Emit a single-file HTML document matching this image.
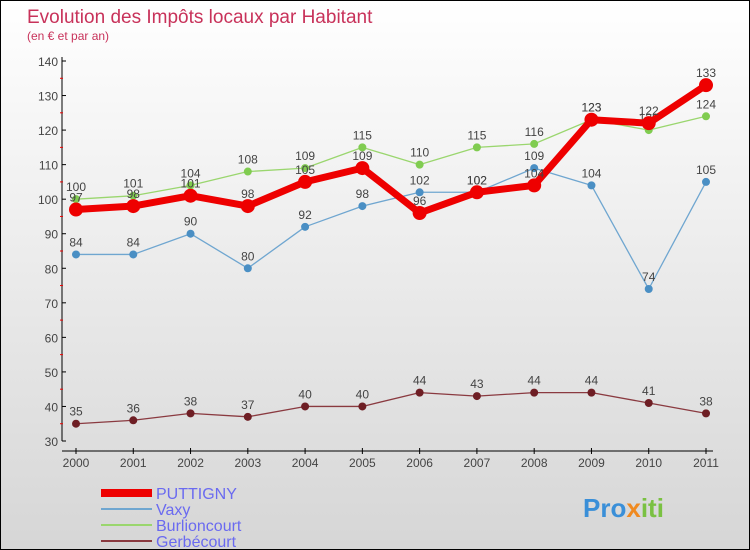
<!DOCTYPE html>
<html><head><meta charset="utf-8"><style>
body{margin:0}
#c{width:750px;height:550px;position:relative;box-sizing:border-box;border:1px solid #000;background:linear-gradient(#fff,#d6d6d6);font-family:"Liberation Sans",sans-serif;overflow:hidden}
</style></head><body>
<div id="c">
<svg id="s" width="748" height="548" style="position:absolute;left:0;top:0">
<text x="26" y="22" font-size="19" fill="#c8325a">Evolution des Impôts locaux par Habitant</text>
<text x="26" y="39" font-size="12" fill="#c8325a">(en € et par an)</text>
<g id="axes"></g><g id="series"></g><g id="legend"></g>
<text x="582" y="516" font-size="26" font-weight="bold" fill="#3a8fd8">Pro<tspan fill="#f08a20">x</tspan><tspan fill="#7ac142">iti</tspan></text>
</svg></div>
<script>
const years=[2000,2001,2002,2003,2004,2005,2006,2007,2008,2009,2010,2011];
const puttigny=[97,98,101,98,105,109,96,102,104,123,122,133];
const vaxy=[84,84,90,80,92,98,102,102,109,104,74,105];
const burlioncourt=[100,101,104,108,109,115,110,115,116,123,120,124];
const gerbecourt=[35,36,38,37,40,40,44,43,44,44,41,38];
const yTicks=[30,40,50,60,70,80,90,100,110,120,130,140];
const NS="http://www.w3.org/2000/svg";
function X(i){return 75+i*(630/11);}
function Y(v){return 440-(v-30)*(380/110);}
function mk(t,a,p){const e=document.createElementNS(NS,t);for(const k in a)e.setAttribute(k,a[k]);p.appendChild(e);return e;}
const ax=document.getElementById('axes');
let l=mk('line',{x1:61,y1:56,x2:61,y2:440,stroke:'#000','stroke-width':1},ax);

l=mk('line',{x1:61,y1:450,x2:712,y2:450,stroke:'#000','stroke-width':1},ax);

yTicks.forEach(v=>{
 mk('line',{x1:61,y1:Y(v),x2:65,y2:Y(v),stroke:'#000'},ax);
 if(v<140)mk('line',{x1:59,y1:Y(v+5),x2:62,y2:Y(v+5),stroke:'#e00'},ax);
 const t=mk('text',{x:57,y:Y(v)+5,'text-anchor':'end','font-size':12,fill:'#444'},ax);t.textContent=v;
 
});
years.forEach((y,i)=>{
 mk('line',{x1:X(i),y1:447,x2:X(i),y2:453,stroke:'#000'},ax);
 const t=mk('text',{x:X(i),y:466,'text-anchor':'middle','font-size':12,fill:'#444'},ax);t.textContent=y;
 
});
const sg=document.getElementById('series');
const defs=[[gerbecourt,'#6e1e24',1.3,4,'gerbecourt'],[vaxy,'#4a8fc4',1.3,4,'vaxy'],[burlioncourt,'#80cc50',1.3,4,'burlioncourt'],[puttigny,'#ee0000',7,7,'puttigny']];
const lineCol={gerbecourt:'#8a3a40',vaxy:'#6fa6d0',burlioncourt:'#9ad66e',puttigny:'#ee0000'};
defs.forEach(([d,c,w,r,n])=>{
 const g=mk('g',{},sg);
 const p=mk('polyline',{points:d.map((v,i)=>X(i)+','+Y(v)).join(' '),fill:'none',stroke:lineCol[n],'stroke-width':w,'stroke-linejoin':'round'},g);
 
 d.forEach((v,i)=>{
  const ci=mk('circle',{cx:X(i),cy:Y(v),r:r,fill:c},g);
  
  const t=mk('text',{x:X(i),y:Y(v)-8,'text-anchor':'middle','font-size':12,fill:'#444'},g);t.textContent=v;
  
 });
});
const lg=document.getElementById('legend');
[['PUTTIGNY','#ee0000',8],['Vaxy','#6fa6d0',2],['Burlioncourt','#9ad66e',2],['Gerbécourt','#8a3a40',2]].forEach(([n,c,w],i)=>{
 const y=492+i*16;
 const g=mk('g',{},lg);
 mk('line',{x1:100,y1:y,x2:151,y2:y,stroke:c,'stroke-width':w},g);
 const t=mk('text',{x:155,y:y+6,'font-size':16,fill:'#6a6af0'},g);t.textContent=n;
});
</script></body></html>
